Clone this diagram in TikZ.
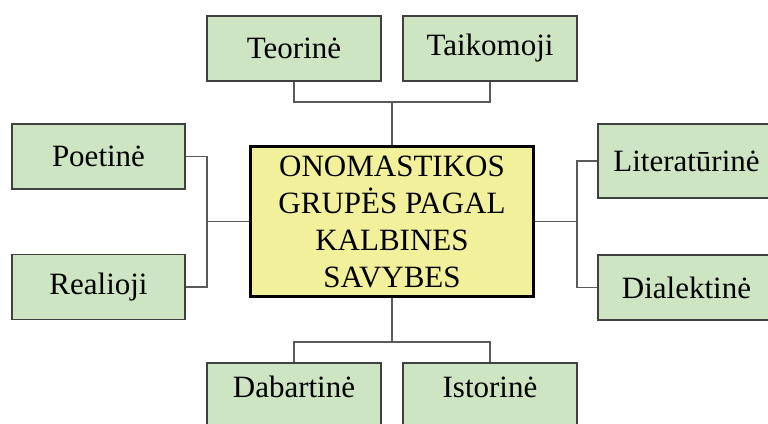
\documentclass[tikz,border=0pt]{standalone}
\usepackage{fontspec}
\setmainfont{Liberation Serif}
\definecolor{vert}{RGB}{205,229,195}
\definecolor{jaune}{RGB}{243,240,155}
\definecolor{bord}{RGB}{64,64,64}
\definecolor{trait}{RGB}{90,90,90}

\begin{document}
\begin{tikzpicture}[x=1pt, y=-1pt,
    feuille/.style={draw=bord, line width=1.2pt, fill=vert, minimum width=174pt, minimum height=65pt,
      inner sep=0pt, font=\fontsize{31}{37}\selectfont},
    bas/.style={feuille, text height=21pt, text depth=18pt},
    centre/.style={draw=black, line width=3pt, fill=jaune, minimum width=283pt, minimum height=150pt,
      align=center, inner sep=0pt, font=\fontsize{31}{37}\selectfont},
    lien/.style={draw=trait, line width=1.2pt}]
  \clip (0,0) rectangle (768,423);

  \node[centre] (C) at (392,221.5) {ONOMASTIKOS\\GRUPĖS PAGAL\\KALBINES\\SAVYBES};

  % en haut
  \node[feuille] (teor) at (294,48.5) {Teorinė};
  \node[feuille] (taik) at (490,48.5) {Taikomoji};
  % à gauche
  \node[feuille, minimum width=173pt] (poet) at (98.5,156.5) {Poetinė};
  \node[feuille, minimum width=173pt] (real) at (98.5,287) {Realioji};
  % à droite
  \node[feuille, minimum width=177pt, minimum height=74pt] (lit) at (686.5,161) {Literatūrinė};
  \node[feuille, minimum width=177pt] (dial) at (686.5,287.5) {Dialektinė};
  % en bas
  \node[bas] (dab) at (294,395.5) {Dabartinė};
  \node[bas] (ist) at (490,395.5) {Istorinė};

  \coordinate (jh) at (392,102);
  \coordinate (jg) at (207,221.5);
  \coordinate (jd) at (577,221.5);
  \coordinate (jb) at (392,342);

  \draw[lien] (teor.south) |- (jh) -| (taik.south);
  \draw[lien] (jh) -- (C.north);
  \draw[lien] (poet.east) -| (jg) |- (real.east);
  \draw[lien] (jg) -- (C.west);
  \draw[lien] (lit.west) -| (jd) |- (dial.west);
  \draw[lien] (jd) -- (C.east);
  \draw[lien] (dab.north) |- (jb) -| (ist.north);
  \draw[lien] (jb) -- (C.south);
\end{tikzpicture}
\end{document}
